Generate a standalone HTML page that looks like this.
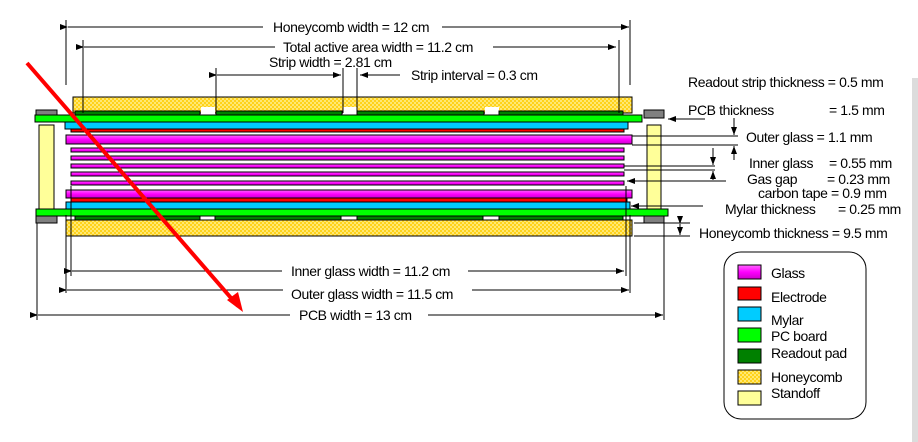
<!DOCTYPE html>
<html><head><meta charset="utf-8"><style>
html,body{margin:0;padding:0;background:#fff;width:918px;height:442px;overflow:hidden}
svg{display:block;font-family:"Liberation Sans",Arial,sans-serif;font-size:14px;letter-spacing:-0.4px}
</style></head><body>
<svg width="918" height="442" viewBox="0 0 918 442">
<defs>
<pattern id="hc" width="4" height="4" patternUnits="userSpaceOnUse"><rect width="4" height="4" fill="#ffd21a"/><rect width="2" height="2" fill="#ffe873"/><rect x="2" y="2" width="2" height="2" fill="#ffe873"/></pattern>
<linearGradient id="mg" x1="0" y1="0" x2="0" y2="1"><stop offset="0" stop-color="#ff66ff"/><stop offset="0.5" stop-color="#ff00ff"/><stop offset="1" stop-color="#cc00cc"/></linearGradient>
<marker id="ar" markerWidth="8" markerHeight="6" refX="8" refY="3" orient="auto"><path d="M0,0 L8,3 L0,6 z" fill="#000"/></marker>
</defs>
<rect x="912" y="78" width="6" height="364" fill="#dcdcdc"/>

<g stroke="#000" stroke-width="1">
<rect x="73" y="97" width="559" height="16" fill="url(#hc)"/>
<g fill="#fff" stroke="none"><rect x="201" y="107" width="14" height="7"/><rect x="343" y="107" width="14" height="7"/><rect x="485" y="107" width="14" height="7"/></g>
<g fill="#008000"><rect x="75" y="111" width="125" height="4"/><rect x="216" y="111" width="126" height="4"/><rect x="357" y="111" width="127" height="4"/><rect x="499" y="111" width="124" height="4"/></g>
<rect x="36" y="110" width="21" height="8" fill="#808080"/>
<rect x="644" y="110" width="20" height="8" fill="#808080"/>
<rect x="35" y="115" width="607" height="7" fill="#00ff00"/>
<rect x="65" y="122" width="563" height="7" fill="#00ccff"/>
<rect x="71" y="129" width="553" height="3" fill="#ff0000"/>
<rect x="66" y="135" width="566" height="9" fill="url(#mg)"/>
<g fill="url(#mg)">
<rect x="71" y="148" width="553" height="4"/><rect x="71" y="156" width="553" height="4"/><rect x="71" y="164" width="553" height="4"/><rect x="71" y="172" width="553" height="4"/><rect x="71" y="181" width="553" height="4"/></g>
<rect x="66" y="190" width="566" height="8" fill="url(#mg)"/>
<rect x="71" y="198" width="556" height="4" fill="#ff0000"/>
<rect x="66" y="202" width="564" height="7" fill="#00ccff"/>
<rect x="36" y="209" width="632" height="7" fill="#00ff00"/>
<rect x="36" y="216" width="21" height="7" fill="#808080"/>
<rect x="644" y="216" width="20" height="7" fill="#808080"/>
<rect x="66" y="220" width="566" height="16" fill="url(#hc)"/>
<g fill="#008000"><rect x="75" y="216" width="125" height="4"/><rect x="215" y="216" width="126" height="4"/><rect x="357" y="216" width="126" height="4"/><rect x="499" y="216" width="124" height="4"/></g>
<rect x="39" y="125" width="15" height="84" fill="#ffff99"/>
<rect x="647" y="125" width="14" height="84" fill="#ffff99"/>
</g>

<g stroke="#000" stroke-width="1" fill="none">
<line x1="66" y1="20" x2="66" y2="85"/><line x1="630" y1="20" x2="630" y2="85"/>
<line x1="68" y1="27" x2="263" y2="27" marker-start="url(#ar)"/><line x1="442" y1="27" x2="629" y2="27" marker-end="url(#ar)"/>
<line x1="83" y1="40" x2="83" y2="113"/><line x1="619" y1="40" x2="619" y2="113"/>
<line x1="84" y1="47" x2="275" y2="47" marker-start="url(#ar)"/><line x1="493" y1="47" x2="616" y2="47" marker-end="url(#ar)"/>
<line x1="216" y1="68" x2="216" y2="113"/><line x1="343" y1="68" x2="343" y2="113"/><line x1="357" y1="68" x2="357" y2="113"/>
<line x1="217" y1="75" x2="341" y2="75" marker-start="url(#ar)" marker-end="url(#ar)"/>
<line x1="400" y1="75" x2="360" y2="75" marker-end="url(#ar)"/>
<line x1="705" y1="119" x2="668" y2="119" marker-end="url(#ar)"/>
<line x1="632" y1="136" x2="738" y2="136"/><line x1="632" y1="145" x2="738" y2="145"/>
<line x1="734" y1="118" x2="734" y2="135" marker-end="url(#ar)"/><line x1="734" y1="160" x2="734" y2="146" marker-end="url(#ar)"/>
<line x1="624" y1="166" x2="715" y2="166"/><line x1="624" y1="170" x2="715" y2="170"/>
<line x1="713" y1="148" x2="713" y2="165" marker-end="url(#ar)"/><line x1="713" y1="180" x2="713" y2="171" marker-end="url(#ar)"/>
<line x1="726" y1="181" x2="627" y2="181" marker-end="url(#ar)"/>
<line x1="703" y1="206" x2="631" y2="206" marker-end="url(#ar)"/>
<line x1="634" y1="223" x2="690" y2="223"/><line x1="634" y1="236" x2="690" y2="236"/>
<line x1="680" y1="224" x2="680" y2="230" marker-start="url(#ar)"/><line x1="680" y1="230" x2="680" y2="235" marker-end="url(#ar)"/>
<line x1="37" y1="223" x2="37" y2="320"/><line x1="664" y1="223" x2="664" y2="320"/>
<line x1="66" y1="215" x2="66" y2="293"/><line x1="630" y1="215" x2="630" y2="293"/>
<line x1="71" y1="186" x2="71" y2="276"/><line x1="626" y1="186" x2="626" y2="276"/>
<line x1="72" y1="271" x2="282" y2="271" marker-start="url(#ar)"/><line x1="468" y1="271" x2="624" y2="271" marker-end="url(#ar)"/>
<line x1="67" y1="290" x2="283" y2="290" marker-start="url(#ar)"/><line x1="472" y1="290" x2="629" y2="290" marker-end="url(#ar)"/>
<line x1="38" y1="315" x2="290" y2="315" marker-start="url(#ar)"/><line x1="428" y1="315" x2="663" y2="315" marker-end="url(#ar)"/>
</g>

<g fill="#000">
<text x="273" y="32">Honeycomb width  = 12 cm</text>
<text x="283" y="52">Total active area  width  = 11.2 cm</text>
<text x="269" y="67">Strip width = 2.81 cm</text>
<text x="411" y="80">Strip interval  = 0.3 cm</text>
<text x="688" y="87">Readout strip thickness = 0.5 mm</text>
<text x="688" y="115">PCB thickness</text><text x="829" y="115">= 1.5 mm</text>
<text x="746" y="142">Outer glass   = 1.1 mm</text>
<text x="749" y="168">Inner glass</text><text x="829" y="168">= 0.55 mm</text>
<text x="747" y="184">Gas gap</text><text x="827" y="184">= 0.23 mm</text>
<text x="758" y="198">carbon tape   = 0.9 mm</text>
<text x="725" y="214">Mylar thickness</text><text x="838" y="214">= 0.25 mm</text>
<text x="699" y="238">Honeycomb thickness = 9.5 mm</text>
<text x="291" y="276">Inner glass width  = 11.2 cm</text>
<text x="291" y="299">Outer  glass width  = 11.5 cm</text>
<text x="299" y="320">PCB width  = 13 cm</text>
</g>

<line x1="27" y1="63" x2="238" y2="306" stroke="#ff0000" stroke-width="4"/>
<path d="M243,312 L227,300 L238,292 z" fill="#ff0000"/>

<g>
<rect x="724" y="252" width="142" height="167" rx="17" fill="#fff" stroke="#000"/>
<g stroke="#000">
<rect x="738" y="265" width="23" height="14" fill="url(#mg)"/>
<rect x="738" y="287" width="23" height="13" fill="#ff0000"/>
<rect x="738" y="307" width="23" height="14" fill="#00ccff"/>
<rect x="738" y="328" width="23" height="14" fill="#00ff00"/>
<rect x="738" y="349" width="23" height="14" fill="#008000"/>
<rect x="738" y="370" width="23" height="14" fill="url(#hc)"/>
<rect x="738" y="391" width="23" height="14" fill="#ffff99"/>
</g>
<text x="771" y="278">Glass</text>
<text x="771" y="302">Electrode</text>
<text x="771" y="325">Mylar</text>
<text x="771" y="341">PC board</text>
<text x="771" y="358">Readout pad</text>
<text x="771" y="382">Honeycomb</text>
<text x="771" y="398">Standoff</text>
</g>
</svg>
</body></html>
